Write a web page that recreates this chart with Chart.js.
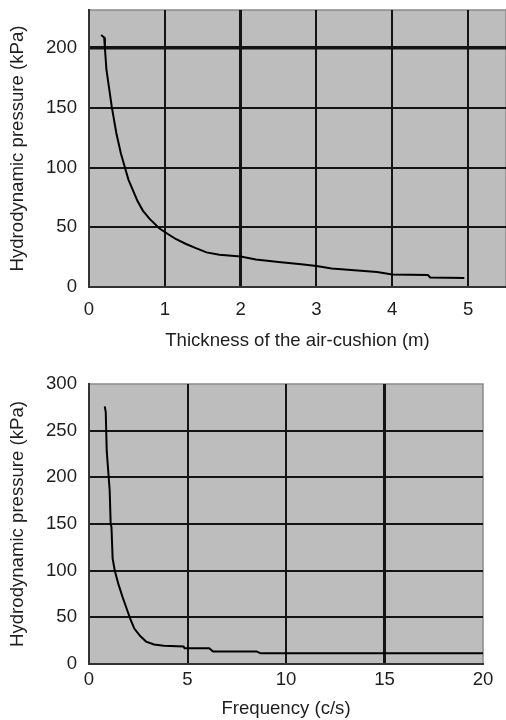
<!DOCTYPE html>
<html>
<head>
<meta charset="utf-8">
<script src="https://cdn.jsdelivr.net/npm/chart.js@4/dist/chart.umd.min.js"></script>
<style>
    html, body { margin: 0; padding: 0; background: #fff; overflow: hidden; }
    .box { position: absolute; left: 0; width: 506px; }
    #top { top: 0; height: 356px; }
    #bottom { top: 360px; height: 360px; }
</style>
</head>
<body>
<div class="box" id="top"><canvas id="c1"></canvas></div>
<div class="box" id="bottom"><canvas id="c2"></canvas></div>
<script>
// top chart: pressure vs air-cushion thickness
const thicknessX = [0.16, 0.2, 0.21, 0.23, 0.3, 0.36, 0.42, 0.47, 0.52, 0.58, 0.64, 0.71, 0.8, 0.93, 1.05, 1.15, 1.28, 1.41, 1.55, 1.72, 2.0, 2.2, 2.5, 2.8, 3.0, 3.2, 3.5, 3.8, 4.0, 4.47, 4.5, 4.95];
const thicknessP = [211, 209, 200, 182, 151, 129, 112, 101, 90, 81, 72, 64, 57, 49, 44, 40, 36, 32.5, 29, 27, 25.5, 23, 21, 19, 17.5, 15.5, 14, 12.5, 10.5, 10, 8, 7.5];
const thicknessXTicks = [0, 1, 2, 3, 4, 5];

// bottom chart: pressure vs frequency
const freqX = [0.8, 0.85, 0.9, 1.0, 1.05, 1.1, 1.14, 1.2, 1.31, 1.5, 1.7, 1.9, 2.1, 2.3, 2.6, 2.9, 3.3, 3.8, 4.8, 4.85, 6.1, 6.3, 8.5, 8.7, 20];
const freqP = [276, 270, 228, 200, 186, 150, 147, 113, 100, 85, 72, 60, 48, 38, 30, 24, 21, 19.5, 18.8, 17, 17, 13.5, 13.5, 11.5, 11.5];
const freqXTicks = [0, 5, 10, 15, 20];

const yLabel = 'Hydrodynamic pressure (kPa)';
const FONT = "'Liberation Sans', Arial, sans-serif";
const TEXT = '#1e1e1e';
const GRID = '#141414';

Chart.defaults.font.family = FONT;
Chart.defaults.font.size = 18.6;
Chart.defaults.color = TEXT;

// grey plot background with light top/right edges
const plotBg = {
    id: 'plotBg',
    beforeDraw(chart) {
        const { ctx, chartArea: a } = chart;
        ctx.save();
        ctx.fillStyle = '#bdbdbd';
        ctx.fillRect(a.left, a.top, a.right - a.left, a.bottom - a.top);
        ctx.strokeStyle = '#8a8a8a';
        ctx.lineWidth = 1.5;
        ctx.beginPath();
        ctx.moveTo(a.left, a.top);
        ctx.lineTo(a.right, a.top);
        ctx.lineTo(a.right, a.bottom);
        ctx.stroke();
        ctx.restore();
    },
};

function makeChart(el, xs, ys, opt) {
    const pts = xs.map((x, i) => ({ x, y: ys[i] }));
    return new Chart(el, {
        type: 'line',
        data: {
            datasets: [{
                data: pts,
                borderColor: '#000',
                borderWidth: 2,
                pointRadius: 0,
                tension: 0,
                fill: false,
            }],
        },
        options: {
            responsive: true,
            maintainAspectRatio: false,
            animation: false,
            layout: { padding: opt.padding },
            plugins: { legend: { display: false }, tooltip: { enabled: false } },
            scales: {
                x: {
                    type: 'linear',
                    min: 0,
                    max: opt.xMax,
                    afterBuildTicks: (s) => { s.ticks = opt.xTicks.map((v) => ({ value: v })); },
                    afterFit: (s) => { s.height = opt.xHeight; },
                    ticks: { padding: opt.xTickPad, maxRotation: 0 },
                    grid: {
                        drawTicks: false,
                        color: (c) => (c.tick && c.tick.value === opt.xMax ? 'rgba(0,0,0,0)' : GRID),
                        lineWidth: (c) => (c.tick && c.tick.value === opt.xBold ? 3 : 2),
                    },
                    border: { color: '#333', width: 2 },
                    title: { display: true, text: opt.xTitle, padding: { top: 0, bottom: opt.xTitlePad } },
                },
                y: {
                    min: 0,
                    max: opt.yMax,
                    afterBuildTicks: (s) => { s.ticks = s.ticks.filter((t) => t.value % 50 === 0); },
                    afterFit: (s) => {
                        s.width = 89;
                        s.paddingTop = 0;
                        s.paddingBottom = 0;
                    },
                    ticks: { stepSize: 50, padding: 12 },
                    grid: {
                        drawTicks: false,
                        color: (c) => (c.tick && c.tick.value === opt.yMax ? 'rgba(0,0,0,0)' : GRID),
                        lineWidth: (c) => (c.tick && c.tick.value === opt.yBold ? 3.5 : 2),
                    },
                    border: { color: '#333', width: 2 },
                    title: { display: true, text: yLabel, padding: { top: 7, bottom: 0 } },
                },
            },
        },
        plugins: [plotBg],
    });
}

makeChart(document.getElementById('c1'), thicknessX, thicknessP, {
    padding: { left: 0, right: 0, top: 10, bottom: 0 },
    xMax: 5.5, yMax: 232, xBold: 2, yBold: 200,
    xTicks: thicknessXTicks, xHeight: 69, xTickPad: 12, xTitlePad: 4,
    xTitle: 'Thickness of the air-cushion (m)',
});

makeChart(document.getElementById('c2'), freqX, freqP, {
    padding: { left: 0, right: 23, top: 24, bottom: 0 },
    xMax: 20, yMax: 300, xBold: 15, yBold: -1,
    xTicks: freqXTicks, xHeight: 56, xTickPad: 5, xTitlePad: 0,
    xTitle: 'Frequency (c/s)',
});
</script>
</body>
</html>
